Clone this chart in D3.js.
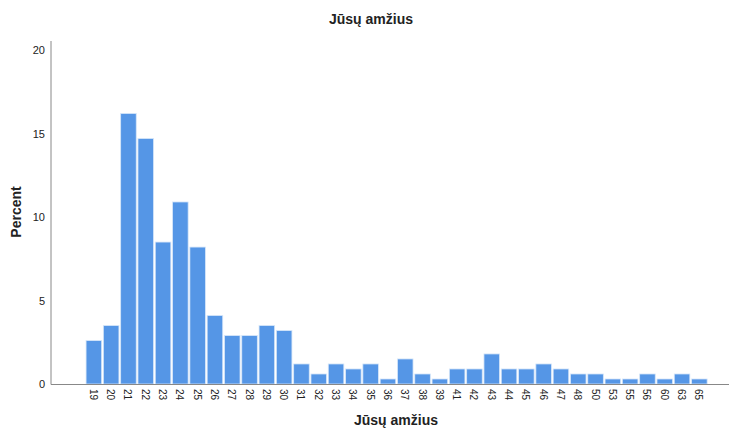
<!DOCTYPE html>
<html><head><meta charset="utf-8">
<script src="https://cdn.jsdelivr.net/npm/d3@7/dist/d3.min.js"></script>
<style>body{margin:0;background:#fff;} svg{display:block;font-family:Arial,"Liberation Sans",sans-serif;}</style>
</head><body><svg id="c" width="731" height="428"></svg>
<script>
const categories = ["19","20","21","22","23","24","25","26","27","28","29","30","31","32","33","34","35","36","37","38","39","41","42","43","44","45","46","47","48","50","53","55","56","60","63","65"];
const percents = [2.6,3.5,16.2,14.7,8.5,10.9,8.2,4.1,2.9,2.9,3.5,3.2,1.2,0.6,1.2,0.9,1.2,0.3,1.5,0.6,0.3,0.9,0.9,1.8,0.9,0.9,1.2,0.9,0.6,0.6,0.3,0.3,0.6,0.3,0.6,0.3];
const yTicks = [0,5,10,15,20];

const svg = d3.select("#c");
const x = d3.scaleBand().domain(categories).range([85.2, 708]).paddingInner(0.1).paddingOuter(0.05);
const y = d3.scaleLinear().domain([0,20]).range([384,50]);

svg.append("text").attr("x",371).attr("y",24).attr("text-anchor","middle")
  .style("font-size","14px").style("font-weight","bold").attr("fill","#222").text("Jūsų amžius");

svg.selectAll("rect.bar").data(percents).join("rect").attr("class","bar")
  .attr("x",(d,i)=>x(categories[i])).attr("width",x.bandwidth())
  .attr("y",d=>y(d)).attr("height",d=>y(0)-y(d))
  .attr("fill","#5596e6").attr("stroke","#d6e6f9").attr("stroke-width",0.8);

svg.append("line").attr("x1",51).attr("x2",51).attr("y1",41).attr("y2",384.5).attr("stroke","#888").attr("stroke-width",1);
svg.append("line").attr("x1",51).attr("x2",729).attr("y1",384.5).attr("y2",384.5).attr("stroke","#888").attr("stroke-width",1);

svg.selectAll("text.yt").data(yTicks).join("text").attr("class","yt")
  .attr("x",45).attr("y",d=>y(d)+4).attr("text-anchor","end")
  .style("font-size","11px").attr("fill","#222").text(d=>d);

svg.selectAll("text.xt").data(categories).join("text").attr("class","xt")
  .attr("transform",d=>`translate(${x(d)+x.bandwidth()/2-4},389) rotate(90)`)
  .attr("text-anchor","start")
  .style("font-size","10px").attr("fill","#222").text(d=>d);

svg.append("text").attr("transform","translate(21,212) rotate(-90)").attr("text-anchor","middle")
  .style("font-size","14px").style("font-weight","bold").attr("fill","#222").text("Percent");

svg.append("text").attr("x",396).attr("y",425).attr("text-anchor","middle")
  .style("font-size","14px").style("font-weight","bold").attr("fill","#222").text("Jūsų amžius");
</script></body></html>
